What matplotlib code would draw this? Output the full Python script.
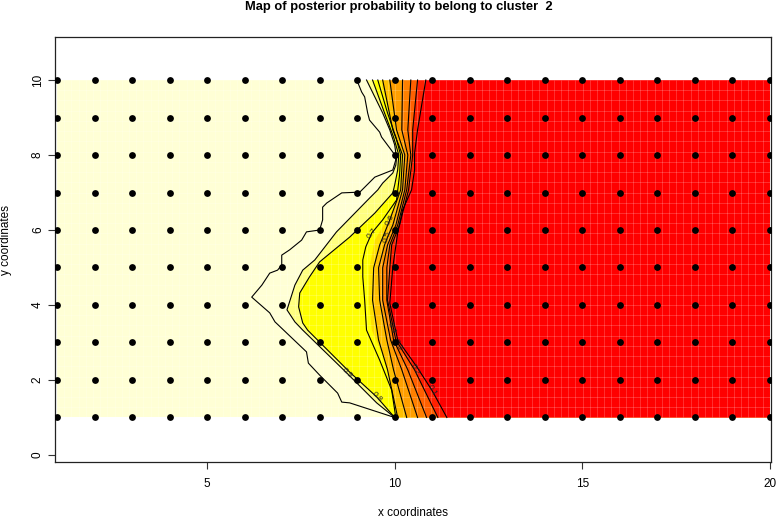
import matplotlib
matplotlib.use('Agg')
import matplotlib.pyplot as plt
import numpy as np

plt.rcParams['font.family'] = ['Liberation Sans', 'DejaVu Sans']

# grid of sampled sites
site_x = list(range(1, 21))
site_y = list(range(1, 11))

# contour lines, as (x, y) running from top to bottom
c100 = [(8.99, 10), (9.12, 9.68), (9.20, 9.55), (9.28, 9.12), (9.33, 8.93), (9.60, 8.61), (9.65, 8.48),
        (9.97, 8.05), (10.03, 7.87), (9.95, 7.60), (9.47, 7.41), (9.07, 7.01), (8.59, 6.99), (8.19, 6.72),
        (8.08, 6.61), (8.08, 6.27), (8.00, 6.00), (7.65, 5.95), (7.52, 5.73), (7.20, 5.47), (6.99, 5.33),
        (6.99, 5.07), (6.88, 4.93), (6.67, 4.85), (6.46, 4.53), (6.19, 4.21), (6.67, 3.79), (6.81, 3.55),
        (7.65, 2.75), (7.70, 2.45), (8.00, 2.13), (8.48, 1.65), (8.59, 1.41), (8.80, 1.39), (10, 1)]
c90 = [(9.25, 10), (9.47, 9.55), (9.68, 9.12), (9.87, 8.67), (10.0, 8.27), (10.05, 7.92), (10.03, 7.73),
       (9.95, 7.52), (9.68, 7.25), (9.55, 7.07), (9.33, 6.85), (8.45, 5.95), (7.87, 5.20), (7.55, 4.93),
       (7.34, 4.53), (7.13, 3.87), (7.34, 3.55), (7.55, 3.33), (8.72, 2.19), (9.52, 1.39), (10, 1)]
c80 = [(9.41, 10), (9.73, 9.12), (9.97, 8.48), (10.11, 8.0), (10.08, 7.6), (10.0, 7.2), (9.95, 6.99),
       (9.47, 6.45), (8.80, 5.81), (8.0, 5.15), (7.73, 4.75), (7.47, 4.32), (7.44, 3.95), (7.55, 3.52),
       (7.68, 3.33), (8.80, 2.21), (9.52, 1.55), (10, 1)]
c70 = [(9.55, 10), (9.81, 9.12), (10.03, 8.48), (10.16, 8.0), (10.13, 7.47), (10.05, 6.8), (9.68, 6.27),
       (9.39, 5.92), (9.23, 5.55), (9.15, 5.2), (9.15, 4.75), (9.2, 4.13), (9.25, 3.33), (9.6, 2.53),
       (9.92, 1.73), (10.03, 1)]
c60 = [(9.68, 10), (9.95, 8.67), (10.21, 8.0), (10.16, 7.07), (9.87, 6.27), (9.6, 5.6), (9.44, 4.99),
       (9.41, 4.13), (9.57, 3.07), (9.81, 2.27), (10.08, 1)]
c50 = [(9.87, 10), (10.05, 8.67), (10.27, 8), (10.21, 7.07), (9.95, 6.13), (9.81, 5.81), (9.73, 5.6),
       (9.57, 4.99), (9.6, 4.13), (9.79, 3.07), (9.97, 2.27), (10.32, 1)]
c40 = [(10.21, 10), (10.19, 8.67), (10.35, 8), (10.27, 7.07), (10.03, 6.13), (9.81, 5.6), (9.68, 4.99),
       (9.68, 4.13), (9.89, 3.07), (10.19, 2.27), (10.61, 1)]
c30 = [(10.43, 10), (10.35, 8.67), (10.43, 8), (10.32, 7.07), (10.08, 6.13), (9.87, 5.6), (9.79, 4.99),
       (9.79, 4.13), (9.97, 3.07), (10.35, 2.27), (10.85, 1)]
c20 = [(10.61, 10), (10.48, 8.67), (10.48, 8), (10.37, 7.07), (10.13, 6.13), (9.92, 5.6), (9.87, 4.99),
       (9.81, 4.13), (10.03, 3.07), (10.53, 2.27), (11.15, 1)]
c10 = [(10.83, 10), (10.61, 8.67), (10.53, 8.05), (10.53, 7.6), (10.45, 7.07), (10.21, 6.53), (10.08, 5.92),
       (9.95, 5.01), (9.87, 4.05), (10.08, 3.07), (10.59, 2.35), (10.99, 1.73), (11.39, 1)]

# right edge of the pure yellow colour, it does not follow a contour line
yellow_edge = [(9.6, 10), (9.87, 9.12), (10.11, 8.4), (10.19, 8), (10.16, 7.47), (10.08, 6.8), (9.79, 6.27),
               (9.47, 5.73), (9.33, 5.01), (9.31, 4.13), (9.39, 3.33), (9.73, 2.53), (10, 1.73), (10.05, 1)]

contours = [c100, c90, c80, c70, c60, c50, c40, c30, c20, c10]

# colour to the right of each band edge, painted in this order
band_edges = [c90, c80, yellow_edge, c60, c50, c40, c30, c20, c10]
band_colors = ['#FFFF80', '#FFFF00', '#FFDF00', '#FFBF00', '#FF9F00', '#FF8000', '#FF6000', '#FF2000', '#FF0000']
base_color = '#FFFFD5'

# contour labels: text, x, y, rotation
label_text = ['0.9', '0.8', '0.7', '0.6', '0.5', '0.4', '0.3', '0.2', '0.1']
label_x = [8.72, 9.52, 9.39, 9.87, 9.81, 9.92, 10.08, 10.53, 11.0]
label_y = [2.19, 1.55, 5.92, 6.27, 5.81, 3.38, 2.94, 2.27, 1.73]
label_rot = [-45, -45, 52, 62, 70, -68, -65, -62, -60]

fig = plt.figure(figsize=(7.76, 5.18), dpi=100)
ax = fig.add_axes([55 / 776, 1 - 462 / 518, (771 - 55) / 776, (462 - 37) / 518])

# base colour, then bands painted left to right, each from its edge to the right side
ax.fill_between([site_x[0], site_x[-1]], site_y[0], site_y[-1], color=base_color, lw=0, zorder=1)
for line, col in zip(band_edges, band_colors):
    xs = [p[0] for p in line] + [site_x[-1], site_x[-1]]
    ys = [p[1] for p in line] + [site_y[0], site_y[-1]]
    ax.fill(xs, ys, color=col, lw=0, zorder=1)

# faint seams between image cells
ax.vlines(np.linspace(site_x[0], site_x[-1], 100), site_y[0], site_y[-1], color='white', alpha=0.22, lw=0.6, zorder=2)
ax.hlines(np.linspace(site_y[0], site_y[-1], 34), site_x[0], site_x[-1], color='white', alpha=0.22, lw=0.6, zorder=2)

for line in contours:
    ax.plot([p[0] for p in line], [p[1] for p in line], color='black', lw=0.8, zorder=3)

for t, x, y, r in zip(label_text, label_x, label_y, label_rot):
    ax.text(x, y, t, fontsize=6, rotation=r, ha='center', va='center', color='#222222', zorder=4)

gx, gy = np.meshgrid(site_x, site_y)
ax.scatter(gx.ravel(), gy.ravel(), s=24, color='black', lw=0, zorder=5)

ax.set_xlim(0.947, 20.03)
ax.set_ylim(-0.187, 11.147)
ax.set_xticks([5, 10, 15, 20])
ax.set_yticks([0, 2, 4, 6, 8, 10])
ax.tick_params(axis='x', length=5, width=0.8, labelsize=8.5, color='#333333', pad=6.5)
ax.tick_params(axis='y', length=5, width=0.8, labelsize=8.5, color='#333333', pad=3)
plt.setp(ax.get_yticklabels(), rotation=90, va='center')
for s in ax.spines.values():
    s.set_linewidth(0.9)
    s.set_color('#222222')

fig.text(413 / 776, 1 - 513 / 518, 'x coordinates', fontsize=8.5, ha='center', va='center')
fig.text(6 / 776, 1 - 240 / 518, 'y coordinates', fontsize=8.5, ha='center', va='center', rotation=90)
fig.text(399 / 776, 1 - 7 / 518, 'Map of posterior probability to belong to cluster  2', fontsize=9.25, fontweight='bold', ha='center', va='center')

plt.savefig('out.png', dpi=100)
